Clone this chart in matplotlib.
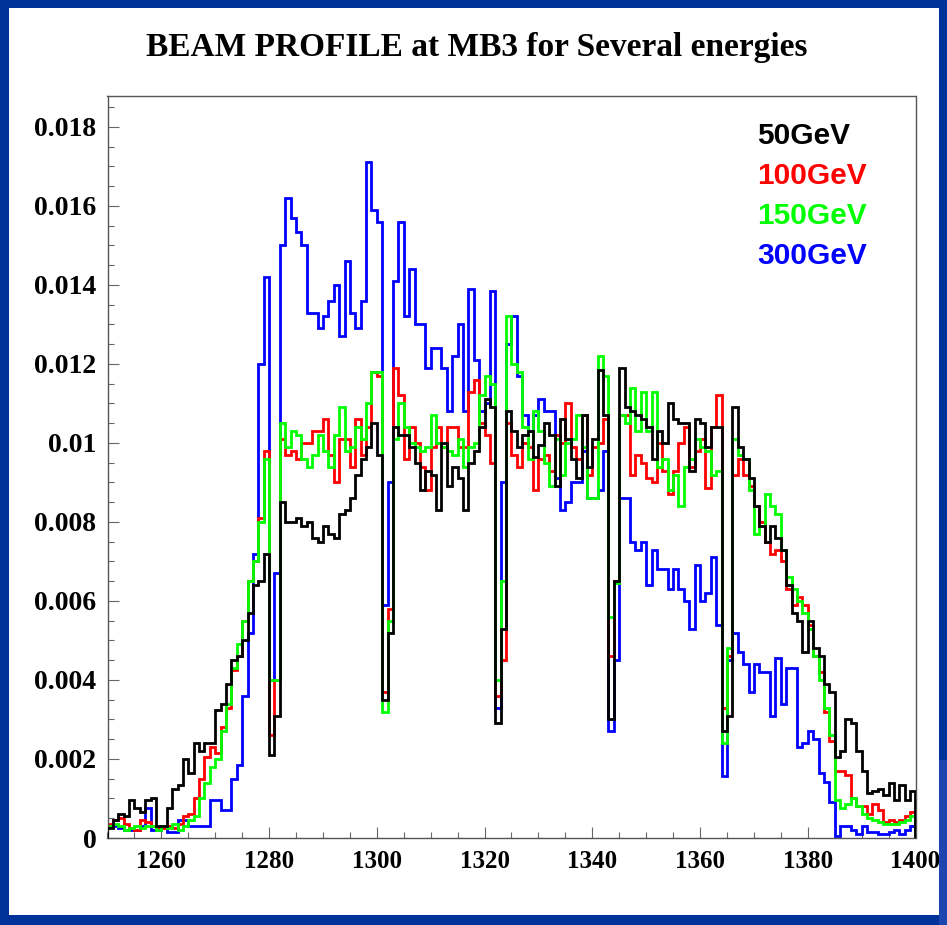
import matplotlib
matplotlib.use("Agg")
import matplotlib.pyplot as plt
import numpy as np
from matplotlib.patches import Rectangle
from matplotlib.ticker import MultipleLocator, FixedLocator, FuncFormatter

# ---------------- data (bin contents in units of 1e-3, 1-unit bins 1250..1400) ----------------
UNIT = 1e-3
bin_edges = list(range(1250, 1401))

e50 = [0.25, 0.45, 0.6, 0.55, 0.95, 0.75, 0.65, 0.95, 1.0, 0.3, 0.3, 0.75, 1.25, 1.35, 2.0, 1.65, 2.4, 2.2, 2.4, 2.4,
       3.25, 3.4, 3.9, 4.5, 4.6, 5.0, 5.7, 6.4, 6.5, 7.2,
       2.1, 3.1,
       8.5, 8.0, 8.0, 8.1, 7.9, 8.0, 7.6, 7.5, 7.9, 7.7, 7.6, 8.2, 8.3, 8.6, 9.2, 9.6, 9.9, 10.5, 9.7,
       3.5, 5.2,
       10.4, 10.2, 10.2, 9.9, 9.5, 8.8, 9.3, 9.2, 8.3, 10.0, 8.9, 9.4, 9.1, 8.3, 9.5, 9.8, 10.4, 11.1, 10.9,
       2.9,
       5.3, 10.8, 10.3, 9.9, 10.2, 10.3, 9.65, 9.95, 10.5, 10.2, 8.9, 10.6, 10.1, 9.6, 9.1, 10.7, 9.4, 10.1, 11.85, 10.7,
       3.0,
       6.5, 11.9, 10.9, 10.8, 10.7, 10.6, 10.4, 9.6, 10.3, 10.0, 11.0, 10.6, 10.5, 10.5, 9.3, 10.6, 10.5, 9.9, 10.4, 10.4,
       2.7, 3.1, 10.9, 9.9, 9.6, 9.1, 8.4, 7.9, 7.5, 7.9, 7.6, 7.3, 6.4, 5.7, 5.5, 4.7, 5.5, 4.8, 4.6, 3.9,
       3.7, 2.05, 2.2, 3.0, 2.9, 2.2, 1.7, 1.15, 1.2, 1.25, 1.1, 1.4, 0.95, 1.35, 0.95, 1.2]

e100 = [0.35, 0.45, 0.5, 0.35, 0.25, 0.2, 0.45, 0.4, 0.3, 0.25, 0.25, 0.3, 0.25, 0.35, 0.55, 0.6, 1.0, 1.5, 2.05, 2.3,
        2.15, 2.8, 3.3, 4.25, 4.6, 5.5, 6.5, 7.0, 8.1, 9.8,
        2.6, 4.0,
        10.1, 9.7, 9.8, 9.6, 10.0, 10.0, 10.3, 10.3, 10.6, 9.7, 9.0, 10.1, 10.1, 9.4, 10.6, 9.7, 10.4, 11.8, 11.7,
        3.7, 5.8,
        11.9, 11.2, 9.6, 10.4, 10.0, 9.4, 8.8, 9.9, 10.4, 9.9, 10.4, 10.4, 9.9, 9.9, 11.3, 11.6, 10.5, 10.2, 9.5,
        3.6,
        4.5, 10.5, 9.7, 9.4, 10.0, 9.9, 8.8, 9.6, 9.7, 9.3, 10.2, 10.0, 11.0, 9.9, 9.6, 10.7, 9.2, 9.9, 10.0, 10.6,
        4.6,
        6.5, 10.7, 10.7, 9.2, 9.7, 9.5, 9.1, 9.0, 10.0, 9.3, 8.7, 9.3, 10.0, 10.4, 9.4, 9.8, 10.1, 8.85, 10.4, 11.2,
        3.3, 4.6, 9.2, 9.6, 9.2, 8.9, 8.4, 8.0, 7.5, 7.2, 7.3, 7.0, 6.3, 5.9, 6.1, 5.9, 5.4, 4.6, 4.2, 3.2,
        2.45, 1.7, 1.7, 1.6, 1.0, 0.8, 0.8, 0.6, 0.85, 0.7, 0.4, 0.45, 0.4, 0.45, 0.55, 0.65]

e150 = [0.3, 0.35, 0.3, 0.2, 0.25, 0.3, 0.25, 0.3, 0.3, 0.2, 0.3, 0.25, 0.35, 0.2, 0.3, 0.45, 0.55, 1.0, 1.4, 1.8,
        2.0, 2.7, 3.4, 4.3, 4.9, 5.5, 6.5, 7.0, 8.0, 9.6,
        4.0, 4.0,
        10.5, 9.9, 10.3, 10.2, 9.6, 9.4, 9.7, 10.2, 9.8, 9.4, 10.2, 10.9, 9.8, 9.9, 10.4, 10.1, 11.0, 11.8, 11.8,
        3.2, 5.5,
        10.1, 11.0, 10.4, 10.0, 9.9, 9.8, 9.9, 10.7, 10.0, 9.9, 9.8, 9.7, 10.1, 9.4, 9.9, 10.0, 11.2, 11.7, 11.5,
        4.0,
        6.5, 13.2, 12.0, 11.8, 10.4, 9.6, 10.8, 10.3, 9.5, 8.9, 10.1, 9.2, 10.0, 10.1, 10.7, 9.9, 8.6, 8.6, 12.2, 11.7,
        5.6,
        6.45, 10.7, 10.5, 11.4, 10.3, 11.3, 10.3, 11.3, 9.4, 9.6, 8.8, 9.2, 8.4, 9.4, 9.6, 10.1, 9.9, 9.8, 9.2, 9.3,
        2.4, 4.8, 10.1, 9.7, 9.6, 8.8, 7.7, 7.9, 8.7, 8.4, 8.2, 7.3, 6.6, 6.3, 6.0, 5.7, 5.3, 4.6, 4.0, 3.3,
        2.6, 0.95, 0.75, 0.85, 1.0, 0.8, 0.6, 0.5, 0.45, 0.4, 0.35, 0.35, 0.35, 0.4, 0.45, 0.55]

e300 = [0.3, 0.3, 0.25, 0.2, 0.2, 0.2, 0.3, 0.75, 0.2, 0.2, 0.3, 0.15, 0.15, 0.45, 0.45, 0.3, 0.3, 0.3, 0.3, 0.95,
        0.95, 0.7, 0.7, 1.5, 1.85, 3.6, 5.2, 7.2, 12.0, 14.2,
        4.0, 6.7,
        15.0, 16.2, 15.7, 15.35, 15.0, 13.3, 13.3, 12.9, 13.2, 13.6, 14.0, 12.7, 14.6, 13.3, 12.9, 13.6, 17.1, 15.9, 15.6,
        5.9, 9.0,
        14.1, 15.6, 13.2, 14.4, 13.0, 13.0, 11.9, 12.4, 12.4, 11.9, 10.8, 12.2, 13.0, 10.8, 13.9, 12.1, 10.8, 11.0, 13.85,
        3.3,
        9.0, 12.5, 13.2, 11.7, 10.7, 10.3, 10.7, 11.1, 10.8, 10.8, 9.1, 8.3, 8.5, 9.0, 9.0, 9.8, 8.6, 8.6, 8.8, 9.8,
        2.7,
        4.5, 8.6, 8.6, 7.5, 7.3, 7.5, 6.4, 7.3, 6.8, 6.8, 6.3, 6.8, 6.3, 6.0, 5.3, 6.9, 6.0, 6.2, 7.1,
        5.4, 1.57, 4.5, 5.2, 4.7, 4.4, 3.7, 4.4, 4.2, 4.2, 3.1, 4.55, 3.4, 4.3, 4.3, 2.3, 2.4, 2.7, 2.5, 1.64,
        1.43, 0.9, 0.05, 0.3, 0.3, 0.2, 0.1, 0.3, 0.15, 0.15, 0.1, 0.1, 0.15, 0.2, 0.1, 0.2, 0.3]

series_labels = ["50GeV", "100GeV", "150GeV", "300GeV"]
series_colors = ["#000000", "#ff0000", "#00ff00", "#0000ff"]
series_values = [e50, e100, e150, e300]

x_major_ticks = [1260, 1280, 1300, 1320, 1340, 1360, 1380, 1400]
title_text = "BEAM PROFILE at MB3 for Several energies"

# ---------------- figure ----------------
W, H = 947, 925
BG = "#003399"
fig = plt.figure(figsize=(W / 100, H / 100), dpi=100, facecolor=BG)
fig.patches.append(Rectangle((9 / W, 1 - 915 / H), (939 - 9) / W, (915 - 8) / H,
                             transform=fig.transFigure, facecolor="white",
                             edgecolor="none", zorder=-2))

ax = fig.add_axes([107.5 / W, 1 - 838 / H, (915.5 - 107.5) / W, (838 - 96) / H])
ax.set_facecolor("white")
ax.set_xlim(1250, 1400)
ax.set_ylim(0, 0.01878)

edges = np.array(bin_edges, dtype=float)
draw_order = [3, 1, 2, 0]
for k in draw_order:
    ax.stairs(np.array(series_values[k]) * UNIT, edges, color=series_colors[k],
              lw=2.0, baseline=0, zorder=2 + (0 if k else 1))

for sp in ax.spines.values():
    sp.set_color("#555555")
    sp.set_linewidth(1.0)

ax.xaxis.set_major_locator(FixedLocator(x_major_ticks))
ax.xaxis.set_minor_locator(MultipleLocator(5))
ax.yaxis.set_major_locator(MultipleLocator(0.002))
ax.yaxis.set_minor_locator(MultipleLocator(0.0005))
ax.yaxis.set_major_formatter(FuncFormatter(lambda v, p: "0" if abs(v) < 1e-12 else "%g" % round(v, 4)))

ax.tick_params(axis="both", which="both", direction="in", top=False, right=False, color="#666666", width=0.8)
ax.tick_params(axis="y", which="major", length=8, pad=8)
ax.tick_params(axis="y", which="minor", length=4)
ax.tick_params(axis="x", which="major", length=8, pad=9)
ax.tick_params(axis="x", which="minor", length=4)

for lab in ax.get_xticklabels():
    lab.set_fontfamily("Liberation Serif")
    lab.set_fontweight("bold")
    lab.set_fontsize(18)
for lab in ax.get_yticklabels():
    lab.set_fontfamily("Liberation Serif")
    lab.set_fontweight("bold")
    lab.set_fontsize(20)

fig.text(477 / W, 1 - 56 / H, title_text, ha="center", va="baseline",
         fontsize=24, fontfamily="Liberation Serif", fontweight="bold", color="black")

for i, (lab, col) in enumerate(zip(series_labels, series_colors)):
    fig.text(757 / W, 1 - (144 + 40 * i) / H, lab, ha="left", va="baseline",
             fontsize=21.5, fontfamily="Liberation Sans", fontweight="bold", color=col)

# blue slide border on the right (covers the clipped "1400" label)
fig.add_artist(Rectangle((939 / W, 0), 8 / W, 1, transform=fig.transFigure,
                         facecolor=BG, edgecolor="none", zorder=10))
fig.add_artist(Rectangle((939 / W, 0), 8 / W, (925 - 760) / H, transform=fig.transFigure,
                         facecolor="#1d45b0", edgecolor="none", zorder=11))

fig.savefig("out.png", dpi=100, facecolor=BG)
